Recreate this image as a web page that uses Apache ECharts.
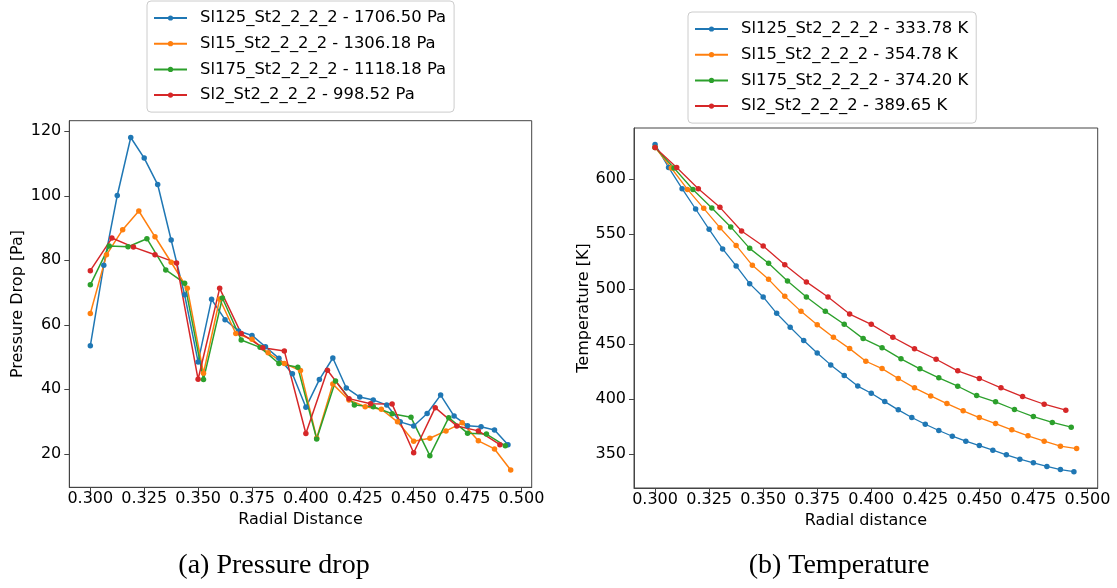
<!DOCTYPE html>
<html>
<head>
<meta charset="utf-8">
<script src="https://cdn.jsdelivr.net/npm/echarts@6/dist/echarts.min.js"></script>
<style>
  html, body { margin: 0; padding: 0; background: #ffffff; }
  #chart { width: 1117px; height: 588px; }
</style>
</head>
<body>
<div id="chart"></div>
<script>
// Case names (slice length variants)
const caseNames = ['Sl125_St2_2_2_2', 'Sl15_St2_2_2_2', 'Sl175_St2_2_2_2', 'Sl2_St2_2_2_2'];
const caseColors = ['#1f77b4', '#ff7f0e', '#2ca02c', '#d62728'];

// Radial positions of the stations for each case
const radiusSl125 = [0.30000, 0.30625, 0.31250, 0.31875, 0.32500, 0.33125, 0.33750, 0.34375,
  0.35000, 0.35625, 0.36250, 0.36875, 0.37500, 0.38125, 0.38750, 0.39375,
  0.40000, 0.40625, 0.41250, 0.41875, 0.42500, 0.43125, 0.43750, 0.44375,
  0.45000, 0.45625, 0.46250, 0.46875, 0.47500, 0.48125, 0.48750, 0.49375];
const radiusSl15 = [0.3000, 0.3075, 0.3150, 0.3225, 0.3300, 0.3375, 0.3450, 0.3525, 0.3600,
  0.3675, 0.3750, 0.3825, 0.3900, 0.3975, 0.4050, 0.4125, 0.4200, 0.4275,
  0.4350, 0.4425, 0.4500, 0.4575, 0.4650, 0.4725, 0.4800, 0.4875, 0.4950];
const radiusSl175 = [0.30000, 0.30875, 0.31750, 0.32625, 0.33500, 0.34375, 0.35250, 0.36125,
  0.37000, 0.37875, 0.38750, 0.39625, 0.40500, 0.41375, 0.42250, 0.43125,
  0.44000, 0.44875, 0.45750, 0.46625, 0.47500, 0.48375, 0.49250];
const radiusSl2 = [0.30, 0.31, 0.32, 0.33, 0.34, 0.35, 0.36, 0.37, 0.38, 0.39,
  0.40, 0.41, 0.42, 0.43, 0.44, 0.45, 0.46, 0.47, 0.48, 0.49];

// Pressure drop per station [Pa]
const dpSl125 = [53.5, 78.5, 100.1, 118.1, 111.7, 103.5, 86.3, 69.3, 48.5, 67.9, 61.6, 58.1,
  56.7, 53.2, 49.6, 44.8, 34.4, 43.0, 49.7, 40.4, 37.6, 36.7, 35.1, 29.9,
  28.6, 32.5, 38.2, 31.7, 28.7, 28.4, 27.4, 22.8];
const dpSl15 = [63.5, 81.7, 89.5, 95.3, 87.3, 79.4, 71.3, 45.0, 68.0, 57.3, 55.5, 51.3,
  48.0, 45.8, 24.8, 41.6, 36.7, 34.6, 33.8, 29.9, 23.9, 24.8, 27.1, 29.6,
  24.0, 21.5, 14.98];
const dpSl175 = [72.4, 84.4, 84.2, 86.7, 77.0, 72.9, 43.0, 68.3, 55.3, 53.0, 48.0, 46.8,
  24.6, 42.6, 35.1, 34.6, 32.4, 31.3, 19.4, 31.2, 26.4, 26.1, 22.48];
const dpSl2 = [76.8, 86.9, 84.1, 81.7, 79.2, 43.1, 71.3, 57.3, 52.9, 51.9, 26.3, 45.9,
  37.1, 35.5, 35.4, 20.32, 34.3, 28.6, 27.1, 22.8];

// Temperature per station [K]
const tSl125 = [631.5, 610.5, 591.2, 572.7, 554.2, 536.4, 520.9, 504.8, 492.7, 477.8, 465.1,
  453.0, 441.8, 430.9, 421.2, 411.6, 405.1, 397.5, 390.0, 383.0, 376.9, 371.2,
  366.0, 361.5, 357.5, 353.3, 349.1, 345.1, 341.8, 338.5, 335.7, 333.78];
const tSl15 = [628.7, 610.0, 590.5, 573.3, 555.7, 539.6, 521.5, 508.7, 493.3, 479.6, 467.3,
  456.0, 445.7, 434.2, 427.5, 418.5, 410.0, 402.7, 395.7, 389.1, 383.0, 377.5,
  371.8, 366.4, 361.5, 356.9, 354.78];
const tSl175 = [628.7, 610.0, 590.5, 573.6, 556.4, 536.9, 523.3, 507.3, 492.7, 479.6, 467.8,
  454.8, 446.6, 436.4, 427.3, 419.1, 411.5, 403.0, 397.3, 390.3, 383.9, 378.5, 374.20];
const tSl2 = [628.7, 610.5, 591.2, 574.2, 552.7, 539.1, 522.1, 506.4, 492.7, 477.1, 467.8,
  456.0, 445.5, 436.0, 425.5, 418.5, 410.0, 402.1, 395.1, 389.65];

// Axis ticks
const radialTicks = [0.300, 0.325, 0.350, 0.375, 0.400, 0.425, 0.450, 0.475, 0.500];
const dpTicks = [20, 40, 60, 80, 100, 120];
const tempTicks = [350, 400, 450, 500, 550, 600];

const radii = [radiusSl125, radiusSl15, radiusSl175, radiusSl2];
const dps = [dpSl125, dpSl15, dpSl175, dpSl2];
const temps = [tSl125, tSl15, tSl175, tSl2];

const FONT = 'DejaVu Sans';
const INK = '#000000';
const SPINE = '#444444';

const sum = a => Math.round(a.reduce((s, v) => s + v, 0) * 100) / 100;
const dpNames = caseNames.map((n, i) => n + ' - ' + sum(dps[i]).toFixed(2) + ' Pa');
const tNames = caseNames.map((n, i) => n + ' - ' + temps[i][temps[i].length - 1].toFixed(2) + ' K');

const pairs = (xs, ys) => xs.map((x, i) => [x, ys[i]]);

function makeXAxis(gridIndex, name) {
  return {
    type: 'value', gridIndex, min: 0.29025, max: 0.50475,
    name, nameLocation: 'middle', nameGap: 24,
    nameTextStyle: { fontFamily: FONT, fontSize: 16, color: INK },
    axisLine: { show: true, lineStyle: { color: SPINE, width: 1 } },
    axisTick: { show: true, length: 5, customValues: radialTicks, lineStyle: { color: SPINE } },
    axisLabel: { customValues: radialTicks, margin: 4, fontFamily: FONT, fontSize: 16, color: INK,
      formatter: v => v.toFixed(3) },
    splitLine: { show: false }
  };
}
function makeYAxis(gridIndex, name, min, max, ticks, gap) {
  return {
    type: 'value', gridIndex, min, max,
    name, nameLocation: 'middle', nameGap: gap,
    nameTextStyle: { fontFamily: FONT, fontSize: 16, color: INK },
    axisLine: { show: true, lineStyle: { color: SPINE, width: 1 } },
    axisTick: { show: true, length: 5, customValues: ticks, lineStyle: { color: SPINE } },
    axisLabel: { customValues: ticks, margin: 8, fontFamily: FONT, fontSize: 16, color: INK },
    splitLine: { show: false }
  };
}
function makeLegend(names, left, top) {
  return {
    data: names, orient: 'vertical', left, top,
    padding: [9, 8, 9, 6], itemWidth: 33, itemHeight: 6.5, itemGap: 9.7,
    selectedMode: false,
    backgroundColor: 'rgba(255,255,255,0.8)', borderColor: '#cccccc', borderWidth: 1, borderRadius: 4,
    textStyle: { fontFamily: FONT, fontSize: 16.4, color: INK, lineHeight: 16, padding: [0, 0, 0, 8] }
  };
}

const series = [];
caseNames.forEach((n, i) => {
  series.push({
    type: 'line', name: dpNames[i], xAxisIndex: 0, yAxisIndex: 0,
    data: pairs(radii[i], dps[i]),
    symbol: 'circle', symbolSize: 5.5, showSymbol: true,
    lineStyle: { width: 1.5, color: caseColors[i] },
    itemStyle: { color: caseColors[i] },
    emphasis: { disabled: true }
  });
});
caseNames.forEach((n, i) => {
  series.push({
    type: 'line', name: tNames[i], xAxisIndex: 1, yAxisIndex: 1,
    data: pairs(radii[i], temps[i]),
    symbol: 'circle', symbolSize: 5.5, showSymbol: true,
    lineStyle: { width: 1.3, color: caseColors[i] },
    itemStyle: { color: caseColors[i] },
    emphasis: { disabled: true }
  });
});

const chart = echarts.init(document.getElementById('chart'), null, { renderer: 'canvas' });
chart.setOption({
  animation: false,
  backgroundColor: '#ffffff',
  grid: [
    { left: 69.3, top: 120.7, width: 462.4, height: 366.6, show: true, borderColor: SPINE, borderWidth: 1, backgroundColor: 'transparent' },
    { left: 634, top: 128, width: 463.7, height: 360, show: true, borderColor: SPINE, borderWidth: 1, backgroundColor: 'transparent' }
  ],
  xAxis: [makeXAxis(0, 'Radial Distance'), makeXAxis(1, 'Radial distance')],
  yAxis: [
    makeYAxis(0, 'Pressure Drop [Pa]', 9.6, 123.3, dpTicks, 43),
    makeYAxis(1, 'Temperature [K]', 318.9, 646.4, tempTicks, 41)
  ],
  legend: [makeLegend(dpNames, 147, 1), makeLegend(tNames, 688, 12)],
  graphic: [
    { type: 'text', x: 274, y: 566, style: { text: '(a) Pressure drop', fontFamily: 'Liberation Serif', fontSize: 28, fill: INK, align: 'center', verticalAlign: 'middle' } },
    { type: 'text', x: 839, y: 566, style: { text: '(b) Temperature', fontFamily: 'Liberation Serif', fontSize: 28, fill: INK, align: 'center', verticalAlign: 'middle' } }
  ],
  series
});
</script>
</body>
</html>
